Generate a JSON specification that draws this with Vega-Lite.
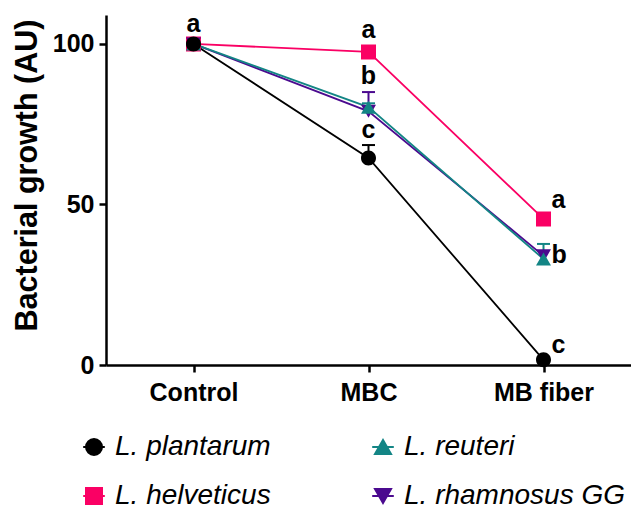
{
  "$schema": "https://vega.github.io/schema/vega-lite/v6.json",
  "width": 525,
  "height": 350,
  "autosize": "none",
  "padding": {"left": 106, "top": 15, "right": 0, "bottom": 143},
  "background": "white",
  "datasets": {
    "pts": [
      {"series": "L. helveticus", "cat": "Control", "v": 100},
      {"series": "L. helveticus", "cat": "MBC", "v": 97.5},
      {"series": "L. helveticus", "cat": "MB fiber", "v": 45.5},
      {"series": "L. rhamnosus GG", "cat": "Control", "v": 100},
      {"series": "L. rhamnosus GG", "cat": "MBC", "v": 79, "hi": 85},
      {"series": "L. rhamnosus GG", "cat": "MB fiber", "v": 34},
      {"series": "L. reuteri", "cat": "Control", "v": 100},
      {"series": "L. reuteri", "cat": "MBC", "v": 80.3, "hi": 81.5},
      {"series": "L. reuteri", "cat": "MB fiber", "v": 33, "hi": 37.7},
      {"series": "L. plantarum", "cat": "Control", "v": 100},
      {"series": "L. plantarum", "cat": "MBC", "v": 64.5, "hi": 68.5},
      {"series": "L. plantarum", "cat": "MB fiber", "v": 1.6}
    ],
    "letters": [
      {"cat": "Control", "ly": 103.7, "t": "a", "side": "top"},
      {"cat": "MBC", "ly": 101.9, "t": "a", "side": "top"},
      {"cat": "MBC", "ly": 87.5, "t": "b", "side": "top"},
      {"cat": "MBC", "ly": 70.7, "t": "c", "side": "top"},
      {"cat": "MB fiber", "ly": 48.9, "t": "a", "side": "right"},
      {"cat": "MB fiber", "ly": 31.8, "t": "b", "side": "right"},
      {"cat": "MB fiber", "ly": 3.7, "t": "c", "side": "right"}
    ]
  },
  "layer": [
    {
      "data": {"name": "pts"},
      "mark": {"type": "line", "strokeWidth": 1.8},
      "encoding": {
        "x": {"field": "cat", "type": "ordinal", "scale": {"type": "point", "padding": 0.5, "domain": ["Control", "MBC", "MB fiber"]}, "sort": null, "axis": {"title": null}},
        "y": {
          "field": "v",
          "type": "quantitative",
          "scale": {"domain": [0, 109], "nice": false},
          "axis": {
            "title": "Bacterial growth (AU)",
            "values": [0, 50, 100],
            "titleX": -70,
            "titleY": 160,
            "titleAngle": -90,
            "titleAlign": "center",
            "titleBaseline": "alphabetic"
          }
        },
        "color": {"field": "series", "type": "nominal"}
      }
    },
    {
      "data": {"name": "pts"},
      "transform": [{"filter": {"field": "hi", "valid": true}}],
      "mark": {"type": "rule", "strokeWidth": 2},
      "encoding": {
        "x": {"field": "cat", "type": "ordinal"},
        "y": {"field": "v", "type": "quantitative"},
        "y2": {"field": "hi"},
        "color": {"field": "series", "type": "nominal"}
      }
    },
    {
      "data": {"name": "pts"},
      "transform": [{"filter": {"field": "hi", "valid": true}}],
      "mark": {"type": "tick", "orient": "horizontal", "size": 13, "thickness": 2, "opacity": 1},
      "encoding": {
        "x": {"field": "cat", "type": "ordinal"},
        "y": {"field": "hi", "type": "quantitative"},
        "color": {"field": "series", "type": "nominal"}
      }
    },
    {
      "data": {"name": "pts"},
      "mark": {"type": "point", "filled": true, "size": 225, "opacity": 1, "strokeWidth": 0},
      "encoding": {
        "x": {"field": "cat", "type": "ordinal"},
        "y": {"field": "v", "type": "quantitative"},
        "color": {
          "field": "series",
          "type": "nominal",
          "scale": {
            "domain": ["L. plantarum", "L. helveticus", "L. reuteri", "L. rhamnosus GG"],
            "range": ["#000000", "#FA0064", "#138585", "#4B0A8F"]
          },
          "legend": {
            "orient": "none",
            "legendX": -26,
            "legendY": 418,
            "columns": 2,
            "title": null,
            "padding": 0,
            "labelFont": "Liberation Sans",
            "labelFontSize": 28,
            "labelFontStyle": "italic",
            "labelColor": "black",
            "labelLimit": 400,
            "labelOffset": 7,
            "symbolSize": 256,
            "symbolStrokeWidth": 2,
            "rowPadding": 21,
            "columnPadding": 97,
            "encode": {
              "symbols": {
                "stroke": {"signal": "datum.value === 'L. plantarum' ? '#000000' : datum.value === 'L. reuteri' ? '#138585' : datum.value === 'L. helveticus' ? '#FA0064' : '#4B0A8F'"},
                "strokeWidth": {"value": 2},
                "opacity": {"value": 1}
              }
            }
          }
        },
        "shape": {
          "field": "series",
          "type": "nominal",
          "scale": {
            "domain": ["L. plantarum", "L. helveticus", "L. reuteri", "L. rhamnosus GG"],
            "range": [
              "M-1.35,0H1.35M1,0A1,1,0,1,1,-1,0A1,1,0,1,1,1,0Z",
              "M-1.35,0H1.35M-1,-1H1V1H-1Z",
              "M-1.35,0H1.35M0,-0.866L1,0.866H-1Z",
              "M-1.35,0H1.35M0,0.866L1,-0.866H-1Z"
            ]
          }
        }
      }
    },
    {
      "data": {"name": "letters"},
      "transform": [{"filter": "datum.side == 'top'"}],
      "mark": {"type": "text", "align": "center", "baseline": "alphabetic", "font": "Liberation Sans", "fontWeight": "bold", "fontSize": 25, "color": "black"},
      "encoding": {
        "x": {"field": "cat", "type": "ordinal"},
        "y": {"field": "ly", "type": "quantitative"},
        "text": {"field": "t"}
      }
    },
    {
      "data": {"name": "letters"},
      "transform": [{"filter": "datum.side == 'right'"}],
      "mark": {"type": "text", "align": "left", "dx": 8, "baseline": "alphabetic", "font": "Liberation Sans", "fontWeight": "bold", "fontSize": 25, "color": "black"},
      "encoding": {
        "x": {"field": "cat", "type": "ordinal"},
        "y": {"field": "ly", "type": "quantitative"},
        "text": {"field": "t"}
      }
    }
  ],
  "resolve": {"scale": {"color": "shared", "shape": "shared"}},
  "config": {
    "view": {"stroke": null},
    "axisX": {
      "labelAngle": 0,
      "labelFont": "Liberation Sans",
      "labelFontWeight": "bold",
      "labelFontSize": 25,
      "labelColor": "black",
      "labelPadding": 8,
      "domainColor": "black",
      "domainWidth": 2.5,
      "tickColor": "black",
      "tickWidth": 2.5,
      "tickSize": 7,
      "grid": false
    },
    "axisY": {
      "labelFont": "Liberation Sans",
      "labelFontWeight": "bold",
      "labelFontSize": 25,
      "labelColor": "black",
      "labelPadding": 5,
      "titleFont": "Liberation Sans",
      "titleFontWeight": "bold",
      "titleFontSize": 30.5,
      "titleColor": "black",
      "domainColor": "black",
      "domainWidth": 2.5,
      "tickColor": "black",
      "tickWidth": 2.5,
      "tickSize": 7,
      "grid": false
    }
  }
}
